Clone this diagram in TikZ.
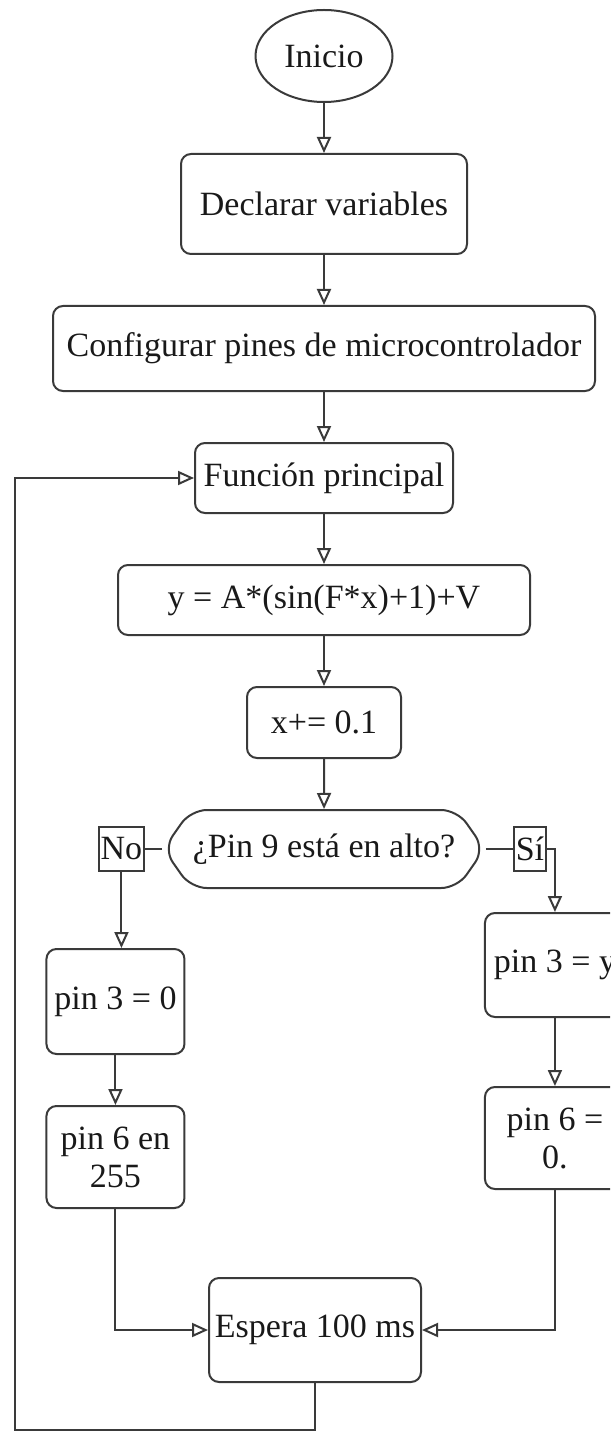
\documentclass[tikz,border=0pt]{standalone}
\usepackage{fontspec}
\setmainfont{Liberation Serif}
\usetikzlibrary{arrows.meta,positioning,shapes.geometric,shapes.symbols}
\definecolor{Ink}{HTML}{3A3A3A}

\begin{document}
\begin{tikzpicture}[
  node distance=25pt and 25pt,
  every node/.style={font=\fontsize{17}{19}\selectfont,align=center,text=black!90},
  term/.style={ellipse,draw=Ink,line width=1pt,minimum width=68.5pt,minimum height=46pt,inner sep=0pt},
  proc/.style={rounded corners=5pt,draw=Ink,line width=1pt,minimum width=#1,minimum height=35pt,inner sep=2pt},
  cond/.style={signal,signal to=east and west,signal pointer angle=110,draw=Ink,line width=1pt,rounded corners=8pt,minimum width=155pt,minimum height=39pt,inner sep=1pt},
  tag/.style={rectangle,draw=Ink,line width=1pt,minimum height=22pt,inner xsep=1pt,inner ysep=0pt},
  wire/.style={draw=Ink,line width=1pt},
  arr/.style={-{Triangle[open,length=8pt,width=7pt]},draw=Ink,line width=1pt}
]
\useasboundingbox (0,0) rectangle (305pt,-716.5pt);
\clip (0,0) rectangle (305pt,-716.5pt);

\node[term] (start) at (162pt,-28pt) {Inicio};
\node[proc=143pt,minimum height=50pt,below=of start] (decl) {Declarar variables};
\node[proc=271pt,minimum height=42.5pt,below=of decl] (config) {Configurar pines de microcontrolador};
\node[proc=129pt,below=of config] (main) {Función principal};
\node[proc=206pt,below=of main] (wave) {y = A*(sin(F*x)+1)+V};
\node[proc=77pt,minimum height=35.5pt,below=of wave] (incr) {x+= 0.1};
\node[cond,below=of incr] (pin9) {¿Pin 9 está en alto?};
\node[tag,left=8.5pt of pin9] (no) {No};
\node[tag,right=13.5pt of pin9] (si) {Sí};

\node[proc=69pt,minimum height=52.5pt,below=38pt of no,xshift=-3pt] (p30) {pin 3 = 0};
\node[proc=69pt,minimum height=51pt,below=of p30] (p6on) {pin 6 en\\255};
\node[proc=70pt,minimum height=52pt,below=20pt of si,xshift=12.5pt] (p3y) {pin 3 = y};
\node[proc=70pt,minimum height=51pt,below=34pt of p3y] (p6off) {pin 6 =\\0.};
\node[proc=106pt,minimum height=52pt] (wait) at (157.5pt,-665pt) {Espera 100 ms};
\coordinate (back) at (7.5pt,-715pt);

\draw[arr] (start) -- (decl);
\draw[arr] (decl) -- (config);
\draw[arr] (config) -- (main);
\draw[arr] (main) -- (wave);
\draw[arr] (wave) -- (incr);
\draw[arr] (incr) -- (pin9);
\draw[wire] (pin9.west) -- (no.east);
\draw[wire] (pin9.east) -- (si.west);
\draw[arr] (no.south) -- (no.south |- p30.north);
\draw[arr] (si.east) -| (p3y.north);
\draw[arr] (p30) -- (p6on);
\draw[arr] (p3y) -- (p6off);
\draw[arr] (p6on.south) |- (wait.west);
\draw[arr] (p6off.south) |- (wait.east);
\draw[arr] (wait.south) |- (back) |- (main.west);
\end{tikzpicture}
\end{document}
